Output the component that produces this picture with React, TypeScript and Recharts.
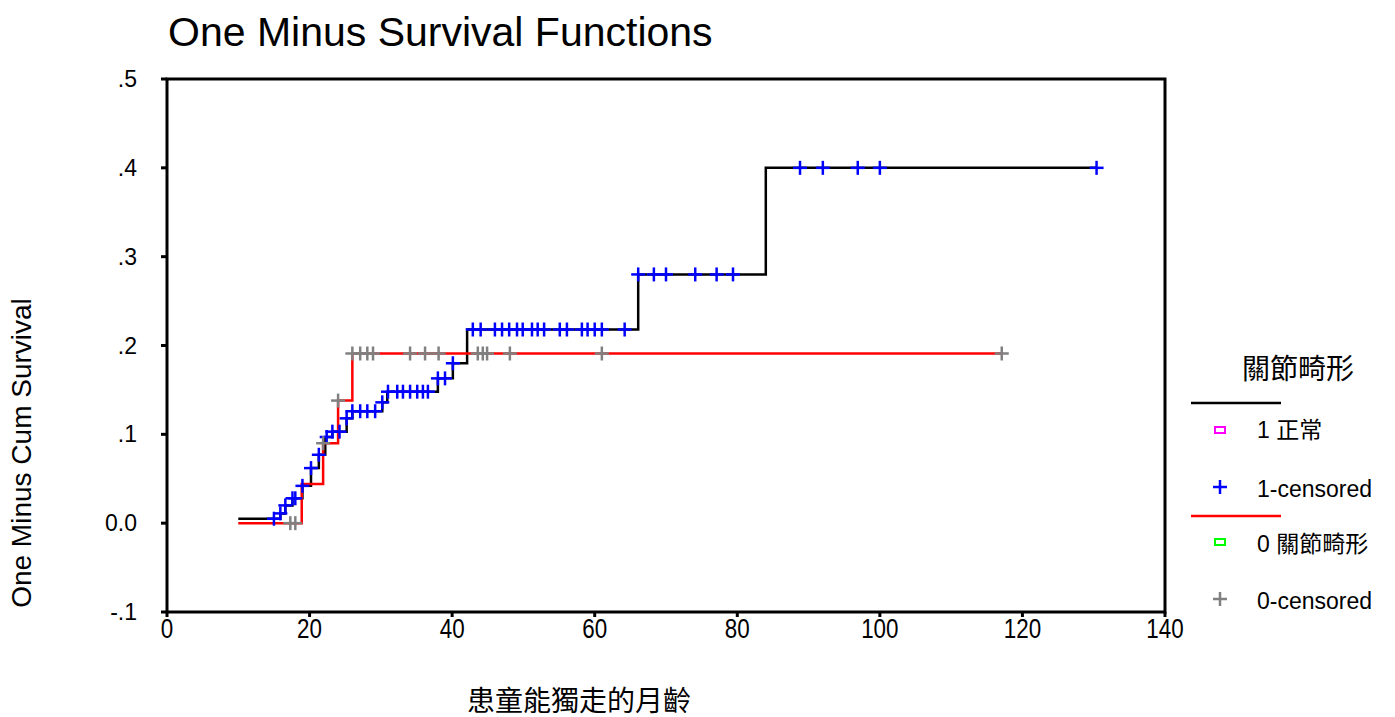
import React from 'react';
import { ComposedChart, Line, Scatter, XAxis, YAxis, ReferenceArea } from 'recharts';

const xTicks = [0, 20, 40, 60, 80, 100, 120, 140];
const yTicks = [-0.1, 0, 0.1, 0.2, 0.3, 0.4, 0.5];
const yTickLabels = ['-.1', '0.0', '.1', '.2', '.3', '.4', '.5'];

// Group 1 正常 (black curve, blue censor marks)
const normalStepTimes = [10, 15.9, 16.6, 17.6, 19.0, 20.2, 21.3, 22.2, 23.2, 25.2, 26.0, 30.2, 30.9, 38.0, 40.1, 42.1, 66.1, 84.0];
const normalStepValues = [0.005, 0.011, 0.020, 0.028, 0.042, 0.062, 0.077, 0.097, 0.103, 0.118, 0.126, 0.136, 0.148, 0.163, 0.180, 0.218, 0.28, 0.40];
const normalEndTime = 130.4;
const normalCensorTimes = [
  15.0, 15.9, 16.6, 17.6, 18.0, 19.0, 20.2, 21.3, 22.4, 23.2, 24.2, 25.2, 26.0, 27.1, 28.1, 29.2, 30.2,
  31.0, 32.3, 33.1, 34.1, 35.1, 35.9, 36.6, 38.0, 39.0, 40.1,
  42.9, 44.0, 46.0, 47.0, 48.0, 49.1, 49.9, 51.2, 52.0, 52.9, 55.1, 56.1, 58.2, 59.0, 60.0, 61.0, 64.2,
  66.1, 68.3, 70.0, 74.1, 77.1, 79.4,
  88.8, 92.0, 96.9, 100.0, 130.4,
];

// Group 0 關節畸形 (red curve, gray censor marks)
const deformStepTimes = [10, 18.9, 21.9, 24.0, 26.0];
const deformStepValues = [0, 0.044, 0.090, 0.138, 0.191];
const deformEndTime = 117.1;
const deformCensorTimes = [17.3, 18.0, 21.9, 24.0, 26.0, 27.1, 28.1, 28.9, 34.1, 36.2, 38.1, 43.6, 44.3, 44.9, 48.1, 61.0, 117.1];

const FONT = "'Liberation Sans', Arial, 'Noto Sans CJK TC', sans-serif";
const CJK = "'Liberation Sans', 'Noto Sans CJK TC', sans-serif";

function levelAt(times: number[], values: number[], t: number) {
  let v = values[0];
  for (let i = 0; i < times.length; i++) {
    if (times[i] <= t + 1e-9) v = values[i];
  }
  return v;
}

function stepData(times: number[], values: number[], end: number) {
  const d = times.map((t, i) => ({ x: t, y: values[i] }));
  d.push({ x: end, y: values[values.length - 1] });
  return d;
}

const normalLine = stepData(normalStepTimes, normalStepValues, normalEndTime);
const deformLine = stepData(deformStepTimes, deformStepValues, deformEndTime);
const normalCensor = normalCensorTimes.map((t) => ({ x: t, y: levelAt(normalStepTimes, normalStepValues, t) }));
const deformCensor = deformCensorTimes.map((t) => ({ x: t, y: levelAt(deformStepTimes, deformStepValues, t) }));

const makePlus = (color: string) => (props: any) => {
  const { cx, cy } = props;
  if (cx == null || cy == null) return <g />;
  return (
    <g>
      <line x1={cx - 7} y1={cy} x2={cx + 7} y2={cy} stroke={color} strokeWidth={2.5} />
      <line x1={cx} y1={cy - 7} x2={cx} y2={cy + 7} stroke={color} strokeWidth={2.5} />
    </g>
  );
};

const XTick = (props: any) => {
  const { x, y, payload } = props;
  return (
    <text x={x} y={y + 19} textAnchor="middle" fontFamily={FONT} fontSize={28} fill="#000"
      transform={`translate(${x},0) scale(0.8,1) translate(${-x},0)`}>
      {payload.value}
    </text>
  );
};

const YTick = (props: any) => {
  const { x, y, payload } = props;
  const idx = yTicks.findIndex((v) => Math.abs(v - payload.value) < 1e-9);
  return (
    <text x={x} y={y + 8} textAnchor="end" fontFamily={FONT} fontSize={23} fill="#000">
      {idx >= 0 ? yTickLabels[idx] : ''}
    </text>
  );
};

export default function App() {
  return (
    <div style={{ position: 'relative', width: 1379, height: 709 }}>
      <style>{'html,body{overflow:hidden}'}</style>
      <ComposedChart width={1379} height={701} margin={{ top: 71, right: 222, bottom: 57, left: 99 }}>
        <XAxis type="number" dataKey="x" domain={[0, 140]} ticks={xTicks} allowDataOverflow
          axisLine={false} tickLine={{ stroke: '#000', strokeWidth: 3 }} tickSize={5} height={40} tick={<XTick />} />
        <YAxis type="number" dataKey="y" domain={[-0.1, 0.5]} ticks={yTicks} allowDataOverflow
          axisLine={false} tickLine={{ stroke: '#000', strokeWidth: 3 }} tickSize={6} tickMargin={24} width={60} tick={<YTick />} />
        <ReferenceArea x1={0} x2={140} y1={-0.1} y2={0.5} fill="none" fillOpacity={0} stroke="#000" strokeWidth={3} ifOverflow="visible" />
        <Line data={normalLine} dataKey="y" type="stepAfter" stroke="#000" strokeWidth={2.5} dot={false} activeDot={false} isAnimationActive={false} />
        <Line data={deformLine} dataKey="y" type="stepAfter" stroke="#ff0000" strokeWidth={2.5} dot={false} activeDot={false} isAnimationActive={false} />
        <Scatter data={normalCensor} dataKey="y" shape={makePlus('#0000ff')} isAnimationActive={false} />
        <Scatter data={deformCensor} dataKey="y" shape={makePlus('#808080')} isAnimationActive={false} />
      </ComposedChart>
      <svg width={1395} height={717} style={{ position: 'absolute', left: -8, top: -8, pointerEvents: 'none' }}>
        <text x={168} y={46} fontFamily={FONT} fontSize={41} fill="#000">One Minus Survival Functions</text>
        <text x={31} y={453} fontFamily={FONT} fontSize={28} fill="#000" textAnchor="middle" transform="rotate(-90,31,453)">One Minus Cum Survival</text>
        <text x={579} y={711} fontFamily={CJK} fontSize={28} fill="#000" textAnchor="middle">患童能獨走的月齡</text>

        <text x={1298} y={379} fontFamily={CJK} fontSize={28} fill="#000" textAnchor="middle">關節畸形</text>
        <line x1={1191} y1={403} x2={1281} y2={403} stroke="#000" strokeWidth={2.5} />
        <rect x={1215} y={427} width={10} height={6} fill="none" stroke="#ff00ff" strokeWidth={2} />
        <text x={1257} y={438} fontFamily={CJK} fontSize={23} fill="#000">1 正常</text>
        <line x1={1213} y1={487} x2={1227} y2={487} stroke="#0000ff" strokeWidth={2.5} />
        <line x1={1220} y1={480} x2={1220} y2={494} stroke="#0000ff" strokeWidth={2.5} />
        <text x={1257} y={497} fontFamily={FONT} fontSize={23} fill="#000">1-censored</text>
        <line x1={1191} y1={516} x2={1281} y2={516} stroke="#ff0000" strokeWidth={2.5} />
        <rect x={1215} y={539} width={10} height={6} fill="none" stroke="#00ff00" strokeWidth={2} />
        <text x={1257} y={552} fontFamily={CJK} fontSize={23} fill="#000">0 關節畸形</text>
        <line x1={1213} y1={599} x2={1227} y2={599} stroke="#808080" strokeWidth={2.5} />
        <line x1={1220} y1={592} x2={1220} y2={606} stroke="#808080" strokeWidth={2.5} />
        <text x={1257} y={609} fontFamily={FONT} fontSize={23} fill="#000">0-censored</text>
      </svg>
    </div>
  );
}
